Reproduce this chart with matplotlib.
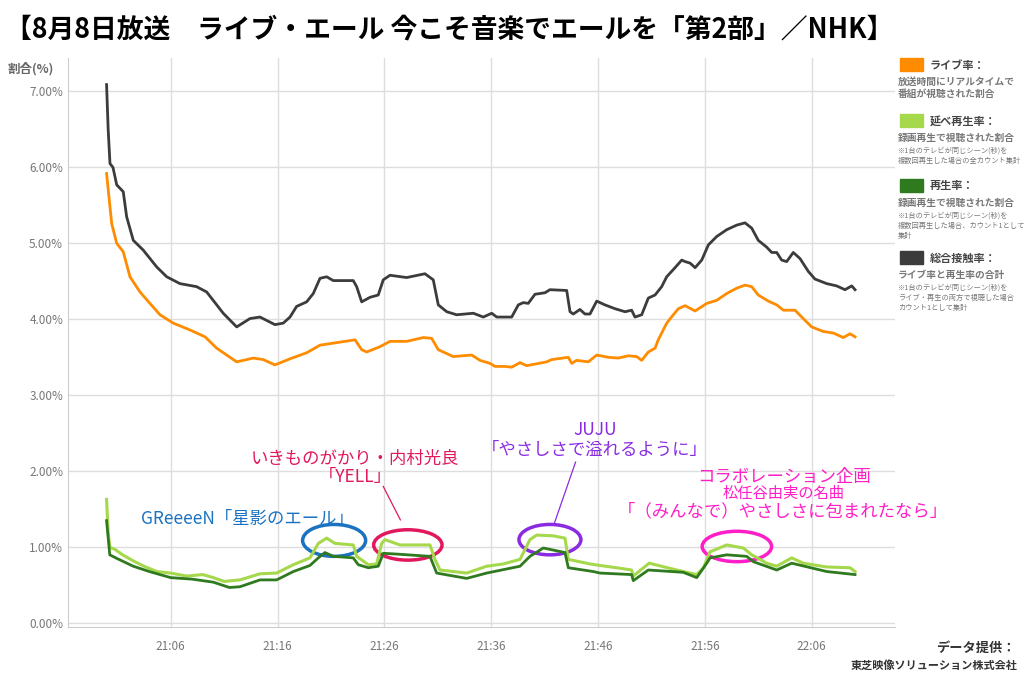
import numpy as np
import matplotlib.pyplot as plt
from matplotlib.patches import Ellipse, Rectangle

plt.rcParams['font.family'] = ['Noto Sans CJK JP', 'DejaVu Sans']

# minutes since 21:00
total_t = [0.0, 0.15, 0.32, 0.6, 0.95, 1.56, 1.88, 2.5, 3.44, 4.69, 5.63, 6.87, 8.43, 9.37,
           10.92, 12.18, 13.42, 14.36, 15.76, 16.54, 17.17, 17.79, 18.73, 19.35, 19.98, 20.6,
           21.22, 23.09, 23.41, 23.88, 24.66, 25.43, 25.9, 26.53, 28.09, 29.8, 30.58, 31.05,
           31.84, 32.77, 34.33, 35.26, 36.05, 36.52, 37.92, 38.54, 39.01, 39.47, 40.1, 41.04,
           41.5, 43.07, 43.38, 43.69, 44.31, 44.78, 45.25, 45.88, 46.65, 47.59, 48.53, 49.15,
           49.46, 50.09, 50.71, 51.34, 51.96, 52.43, 53.21, 53.84, 54.15, 54.62, 55.09, 55.71,
           56.33, 57.11, 58.05, 58.98, 59.76, 60.39, 61.0, 61.79, 62.26, 62.73, 63.19, 63.66,
           64.28, 64.91, 65.69, 66.31, 67.41, 68.34, 69.12, 69.75, 70.06]
total_v = [7.09, 6.5, 6.05, 6.0, 5.77, 5.68, 5.35, 5.04, 4.91, 4.69, 4.56, 4.47, 4.43, 4.36,
           4.08, 3.9, 4.01, 4.03, 3.93, 3.95, 4.03, 4.17, 4.23, 4.34, 4.54, 4.56,
           4.51, 4.51, 4.43, 4.23, 4.29, 4.32, 4.52, 4.58, 4.55, 4.6, 4.52, 4.19,
           4.1, 4.06, 4.08, 4.03, 4.08, 4.03, 4.03, 4.19, 4.22, 4.21, 4.33, 4.35,
           4.39, 4.38, 4.1, 4.07, 4.13, 4.07, 4.07, 4.24, 4.19, 4.14, 4.1, 4.12,
           4.03, 4.06, 4.28, 4.32, 4.43, 4.56, 4.68, 4.78, 4.76, 4.74, 4.68, 4.78,
           4.98, 5.09, 5.18, 5.24, 5.27, 5.2, 5.04, 4.95, 4.88, 4.88, 4.78, 4.76,
           4.88, 4.8, 4.63, 4.53, 4.47, 4.44, 4.39, 4.44, 4.39]

live_t = [0.0, 0.48, 0.95, 1.56, 2.19, 3.13, 4.06, 5.0, 6.24, 7.81, 9.21, 10.31, 12.18, 13.73,
          14.67, 15.76, 17.17, 18.73, 19.98, 21.85, 23.26, 23.88, 24.35, 25.59, 26.53, 28.09,
          29.65, 30.43, 31.05, 32.45, 34.18, 34.95, 35.89, 36.36, 37.29, 37.92, 38.7, 39.32,
          41.2, 41.66, 43.22, 43.54, 44.0, 45.09, 45.88, 46.96, 47.9, 48.83, 49.62, 50.09,
          50.71, 51.34, 51.64, 52.43, 53.05, 53.52, 54.15, 55.09, 56.18, 57.11, 58.05, 58.98,
          59.76, 60.39, 61.0, 61.94, 62.73, 63.35, 64.45, 65.07, 66.0, 67.09, 68.02, 68.96,
          69.59, 70.06]
live_v = [5.92, 5.26, 5.0, 4.89, 4.56, 4.36, 4.21, 4.06, 3.95, 3.86, 3.77, 3.62, 3.44, 3.49,
          3.47, 3.4, 3.48, 3.56, 3.66, 3.7, 3.73, 3.6, 3.57, 3.64, 3.71, 3.71,
          3.76, 3.75, 3.6, 3.51, 3.53, 3.46, 3.42, 3.38, 3.38, 3.37, 3.43, 3.39,
          3.44, 3.47, 3.5, 3.42, 3.46, 3.44, 3.53, 3.5, 3.49, 3.52, 3.51, 3.46,
          3.57, 3.62, 3.73, 3.95, 4.06, 4.14, 4.18, 4.11, 4.21, 4.25, 4.34, 4.41,
          4.45, 4.43, 4.32, 4.24, 4.19, 4.12, 4.12, 4.03, 3.9, 3.84, 3.82, 3.76,
          3.81, 3.77]

nobe_t = [0.0, 0.15, 0.3, 0.8, 1.5, 2.5, 3.5, 4.7, 6.0, 7.5, 9.0, 10.0, 11.0, 12.49, 14.36,
          15.92, 17.48, 19.04, 19.82, 20.6, 21.38, 23.09, 23.41, 24.5, 25.28, 25.75, 26.06,
          27.46, 30.27, 30.74, 31.21, 33.71, 35.58, 37.13, 38.7, 39.63, 40.26, 41.81, 42.91,
          43.22, 45.25, 46.18, 47.75, 49.15, 49.3, 50.79, 53.37, 55.24, 55.87, 56.49, 58.05,
          59.6, 60.39, 61.79, 62.73, 64.13, 65.22, 67.41, 69.59, 70.06]
nobe_v = [1.63, 1.2, 1.0, 0.97, 0.9, 0.82, 0.75, 0.68, 0.66, 0.62, 0.64, 0.6, 0.55, 0.57, 0.65,
          0.66, 0.77, 0.86, 1.05, 1.12, 1.05, 1.03, 0.88, 0.77, 0.78, 1.05, 1.1,
          1.03, 1.03, 0.84, 0.7, 0.66, 0.75, 0.78, 0.84, 1.1, 1.16, 1.15, 1.12,
          0.84, 0.78, 0.76, 0.73, 0.7, 0.62, 0.79, 0.7, 0.64, 0.73, 0.94, 1.03,
          0.99, 0.9, 0.79, 0.75, 0.86, 0.79, 0.74, 0.73, 0.68]

play_t = [0.0, 0.3, 1.0, 2.5, 4.0, 6.0, 8.0, 10.0, 11.5, 12.49, 14.36, 15.92, 17.48, 19.04,
          19.82, 20.44, 21.22, 23.09, 23.56, 24.5, 25.43, 25.9, 27.15, 30.27, 30.9, 33.71,
          35.58, 38.7, 39.63, 40.88, 42.91, 43.22, 45.56, 46.18, 49.15, 49.3, 50.71, 53.98,
          55.24, 56.18, 56.49, 58.05, 59.92, 60.54, 62.73, 64.13, 67.41, 70.06]
play_v = [1.35, 0.9, 0.85, 0.75, 0.68, 0.6, 0.58, 0.54, 0.47, 0.48, 0.57, 0.57, 0.68, 0.76,
          0.86, 0.93, 0.88, 0.86, 0.77, 0.73, 0.75, 0.92, 0.91, 0.88, 0.66, 0.59,
          0.66, 0.75, 0.88, 0.99, 0.93, 0.73, 0.68, 0.66, 0.64, 0.56, 0.7, 0.67,
          0.6, 0.79, 0.86, 0.9, 0.88, 0.81, 0.7, 0.79, 0.68, 0.64]

tick_pos = [6, 16, 26, 36, 46, 56, 66]
tick_labels = ['21:06', '21:16', '21:26', '21:36', '21:46', '21:56', '22:06']
y_ticks = [0, 1, 2, 3, 4, 5, 6, 7]

c_live = '#FF8C00'
c_nobe = '#A6D84C'
c_play = '#2F7A1F'
c_total = '#3C3C3C'

fig = plt.figure(figsize=(10.24, 6.79), dpi=100)
ax = fig.add_axes([68 / 1024, 1 - 627 / 679, (895 - 68) / 1024, (627 - 58) / 679])

ax.plot(total_t, total_v, color=c_total, lw=2)
ax.plot(live_t, live_v, color=c_live, lw=2)
ax.plot(nobe_t, nobe_v, color=c_nobe, lw=2.2)
ax.plot(play_t, play_v, color=c_play, lw=2)

ax.set_xlim(-3.61, 73.8)
ax.set_ylim(-0.05, 7.44)
ax.set_xticks(tick_pos, tick_labels)
ax.set_yticks(y_ticks, [f'{v:.2f}%' for v in y_ticks])
ax.grid(True, color='#DDDDDD', lw=1)
ax.set_axisbelow(True)
ax.tick_params(length=0, colors='#777777', labelsize=8.5)
ax.tick_params(axis='x', pad=9)
for s in ['top', 'right']:
    ax.spines[s].set_visible(False)
for s in ['left', 'bottom']:
    ax.spines[s].set_color('#CCCCCC')

# song annotations
songs = [
    (21.3, 1.09, 5.9, 0.42, '#1A72C0'),
    (28.2, 1.03, 6.4, 0.40, '#E2185F'),
    (41.5, 1.10, 5.8, 0.40, '#8A2BE2'),
    (59.0, 1.01, 6.5, 0.40, '#FF1EC8'),
]
for cx, cy, w, h, col in songs:
    ax.add_patch(Ellipse((cx, cy), w, h, fill=False, ec=col, lw=2.5))

ax.text(13.14, 1.37, 'GReeeeN「星影のエール」', color='#1A72C0', fontsize=12.5,
        ha='center', va='center')
ax.text(23.3, 2.16, 'いきものがかり・内村光良', color='#E2185F', fontsize=12.5,
        ha='center', va='center')
ax.text(23.3, 1.93, '「YELL」', color='#E2185F', fontsize=12.5, ha='center', va='center')
ax.plot([25.9, 27.5], [1.80, 1.36], color='#E2185F', lw=0.9)
ax.text(45.7, 2.54, 'JUJU', color='#8A2BE2', fontsize=12.5, ha='center', va='center')
ax.text(45.7, 2.28, '「やさしさで溢れるように」', color='#8A2BE2', fontsize=12.5,
        ha='center', va='center')
ax.plot([43.9, 41.9], [2.12, 1.31], color='#8A2BE2', lw=0.9)
ax.text(63.4, 1.93, 'コラボレーション企画', color='#FF1EC8', fontsize=12.5,
        ha='center', va='center')
ax.text(63.4, 1.71, '松任谷由実の名曲', color='#FF1EC8', fontsize=11,
        ha='center', va='center')
ax.text(63.3, 1.47, '「（みんなで）やさしさに包まれたなら」', color='#FF1EC8', fontsize=12.5,
        ha='center', va='center')

# title and labels
fig.text(5 / 1024, 1 - 30 / 679, '【8月8日放送　ライブ・エール 今こそ音楽でエールを「第2部」／NHK】',
         fontsize=19.3, fontweight='bold', va='center', ha='left')
fig.text(8 / 1024, 1 - 69 / 679, '割合(%)', fontsize=9, fontweight='bold', color='#666666',
         va='center')
fig.text(1016 / 1024, 1 - 648 / 679, 'データ提供：', fontsize=9.5, fontweight='bold',
         color='#333333', ha='right', va='center')
fig.text(1018 / 1024, 1 - 665 / 679, '東芝映像ソリューション株式会社', fontsize=8,
         fontweight='bold', color='#333333', ha='right', va='center')

# legend
legend_items = [
    (c_live, 'ライブ率：', 65, ['放送時間にリアルタイムで', '番組が視聴された割合'], []),
    (c_nobe, '延べ再生率：', 121, ['録画再生で視聴された割合'],
     ['※1台のテレビが同じシーン(秒)を', '複数回再生した場合の全カウント集計']),
    (c_play, '再生率：', 186, ['録画再生で視聴された割合'],
     ['※1台のテレビが同じシーン(秒)を', '複数回再生した場合、カウント1として', '集計']),
    (c_total, '総合接触率：', 258, ['ライブ率と再生率の合計'],
     ['※1台のテレビが同じシーン(秒)を', 'ライブ・再生の両方で視聴した場合', 'カウント1として集計']),
]
for col, head, y0, desc, notes in legend_items:
    fig.add_artist(Rectangle((900 / 1024, 1 - (y0 + 6) / 679), 23 / 1024, 13 / 679,
                             transform=fig.transFigure, color=col))
    fig.text(930 / 1024, 1 - y0 / 679, head, fontsize=8, fontweight='bold',
             color='#444444', va='center')
    y = y0 + 17
    for line in desc:
        fig.text(898 / 1024, 1 - y / 679, line, fontsize=7, fontweight='bold',
                 color='#777777', va='center')
        y += 12
    y += 1
    for line in notes:
        fig.text(898 / 1024, 1 - y / 679, line, fontsize=5.2, color='#777777', va='center')
        y += 10

fig.savefig('out.png', dpi=100)
